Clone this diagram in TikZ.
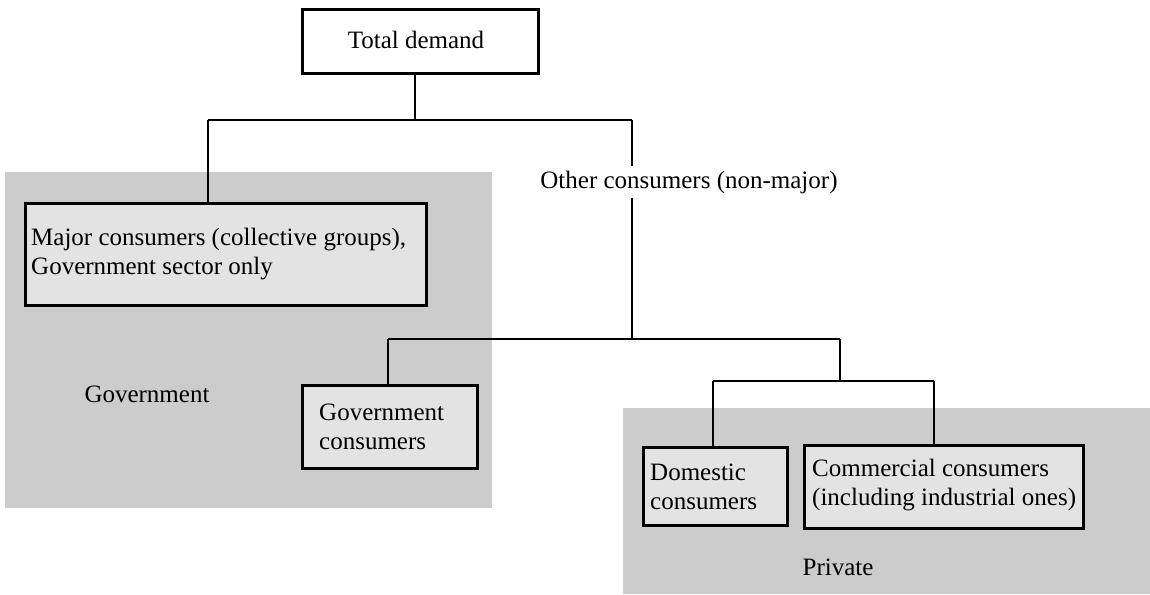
\documentclass[tikz,border=0pt]{standalone}
\usepackage{fontspec}
\setmainfont{Liberation Serif}
\begin{document}
\begin{tikzpicture}[x=1pt,y=-1pt,
  region/.style={fill=black!20, draw=none},
  box/.style={draw=black, line width=3pt, inner sep=0pt, font=\fontsize{25}{29}\selectfont},
  inbox/.style={box, fill=black!11},
  lbl/.style={inner sep=1pt, font=\fontsize{25}{29}\selectfont},
  conn/.style={draw=black, line width=2.8pt}]
\useasboundingbox (0,0) rectangle (1150,594);
\fill[white] (0,0) rectangle (1150,594);
% shaded regions
\path[region] (5,172) rectangle (492,508);
\path[region] (623,408) rectangle (1150,594);
% boxes
\node[box, fill=white, minimum width=236pt, minimum height=63pt] (total) at (420,41.5) {};
\node[lbl] (totaltxt) at (416,40) {Total demand};
\node[inbox, minimum width=401pt, minimum height=102pt] (major) at (225.5,254) {};
\node[lbl, anchor=west, align=left] (majortxt) at (30,254) {Major consumers (collective groups),\\Government sector only};
\node[inbox, minimum width=175pt, minimum height=83pt] (gov) at (389.5,426.5) {};
\node[lbl, anchor=west, align=left] (govtxt) at (318,427) {Government\\consumers};
\node[inbox, minimum width=144pt, minimum height=78pt] (dom) at (715,486) {};
\node[lbl, anchor=west, align=left] (domtxt) at (649,487) {Domestic\\consumers};
\node[inbox, minimum width=279pt, minimum height=83pt] (com) at (943.5,486.5) {};
\node[lbl, anchor=west, align=left] (comtxt) at (811,485) {Commercial consumers\\(including industrial ones)};
% labels
\node[lbl, inner sep=4pt] (other) at (689,182) {Other consumers (non-major)};
\node[lbl] (govlbl) at (147,394) {Government};
\node[lbl] (privlbl) at (838,567) {Private};
% junctions
\coordinate (j1) at (415,120);
\coordinate (jl) at (208,120);
\coordinate (jr) at (632,120);
\coordinate (j2) at (632,339);
\coordinate (j2l) at (388,339);
\coordinate (j2r) at (840,339);
\coordinate (j3) at (840,381);
\coordinate (j3l) at (713,381);
\coordinate (j3r) at (934,381);
% connectors
\draw[conn] (total.south -| j1) -- (j1);
\draw[conn] (jl) -- (jr);
\draw[conn] (jl) -- (major.north -| jl);
\draw[conn] (jr) -- (other.north -| jr);
\draw[conn] (other.south -| j2) -- (j2);
\draw[conn] (j2l) -- (j2r);
\draw[conn] (j2l) -- (gov.north -| j2l);
\draw[conn] (j2r) -- (j3);
\draw[conn] (j3l) -- (j3r);
\draw[conn] (j3l) -- (dom.north -| j3l);
\draw[conn] (j3r) -- (com.north -| j3r);
\end{tikzpicture}
\end{document}
